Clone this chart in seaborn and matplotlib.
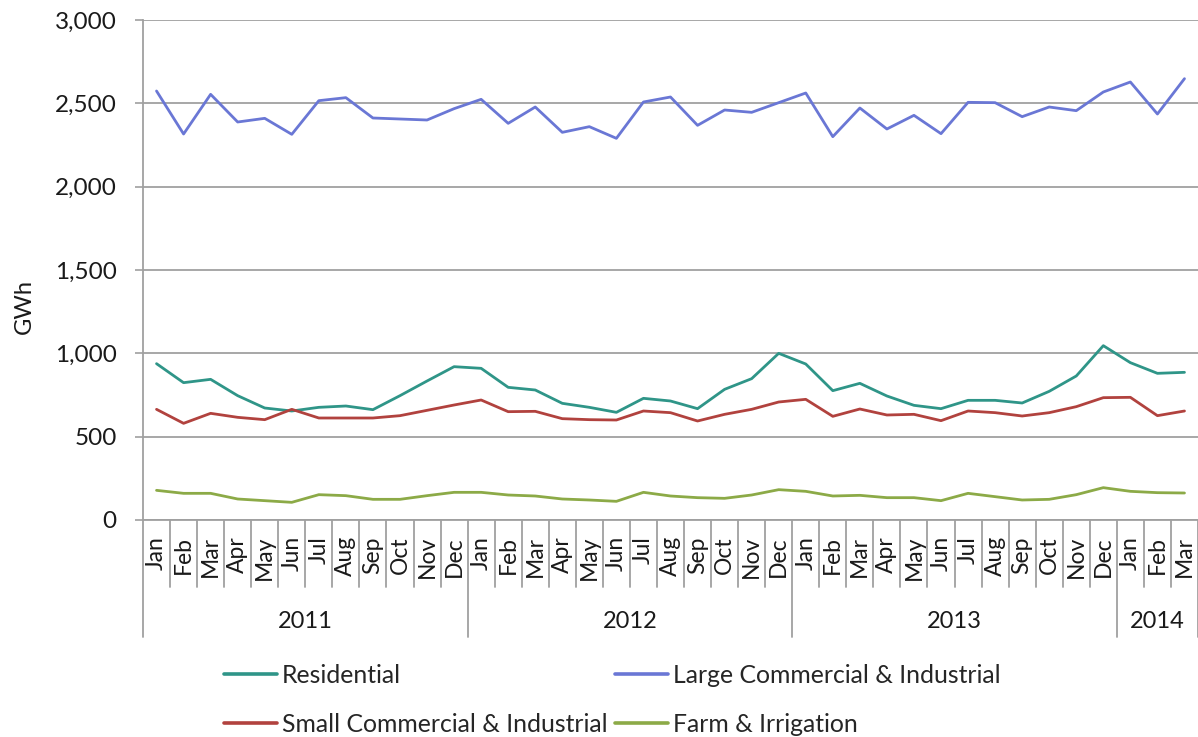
import matplotlib
matplotlib.use("Agg")
import matplotlib.pyplot as plt
import matplotlib.transforms as mtransforms
from matplotlib.lines import Line2D
import seaborn as sns
import pandas as pd
import numpy as np

months = ["Jan", "Feb", "Mar", "Apr", "May", "Jun", "Jul", "Aug", "Sep", "Oct", "Nov", "Dec"] * 3 + ["Jan", "Feb", "Mar"]
years = ["2011", "2012", "2013", "2014"]
year_counts = [12, 12, 12, 3]

residential = [938, 824, 844, 746, 672, 654, 676, 684, 662, 746, 834, 920,
               910, 796, 780, 700, 676, 646, 730, 714, 668, 784, 848, 1000,
               936, 776, 820, 744, 688, 668, 718, 718, 702, 772, 864, 1046,
               944, 880, 886]
large_ci = [2574, 2316, 2554, 2388, 2410, 2314, 2516, 2534, 2412, 2406, 2400, 2468,
            2524, 2380, 2478, 2326, 2360, 2290, 2508, 2538, 2368, 2460, 2446, 2504,
            2562, 2300, 2472, 2346, 2428, 2318, 2506, 2504, 2420, 2478, 2456, 2568,
            2628, 2436, 2648]
small_ci = [664, 580, 640, 616, 602, 664, 612, 612, 612, 626, 658, 690,
            720, 650, 652, 608, 602, 600, 654, 644, 594, 634, 664, 708,
            724, 622, 666, 630, 634, 596, 654, 644, 624, 644, 680, 734,
            736, 626, 654]
farm = [178, 160, 160, 126, 116, 106, 152, 146, 124, 124, 146, 166,
        166, 150, 144, 126, 120, 112, 166, 144, 134, 130, 150, 182,
        172, 144, 148, 134, 134, 116, 160, 140, 120, 124, 152, 194,
        172, 164, 162]

series_names = ["Residential", "Large Commercial & Industrial",
                "Small Commercial & Industrial", "Farm & Irrigation"]
colors = ["#2F9588", "#6A77D5", "#B1423E", "#8CAA47"]

idx = np.arange(len(months))
df = pd.concat([
    pd.DataFrame({"idx": idx, "GWh": vals, "series": name})
    for name, vals in zip(series_names, [residential, large_ci, small_ci, farm])
])

sns.set_theme(style="white")
plt.rcParams["font.family"] = ["Lato", "DejaVu Sans"]

fig = plt.figure(figsize=(11.98, 7.37), dpi=100)
W, H = 1198, 737
ax = fig.add_axes([143 / W, 1 - 520 / H, (1198 - 143) / W, 500 / H])

sns.lineplot(data=df, x="idx", y="GWh", hue="series", hue_order=series_names,
             palette=colors, linewidth=2.0, ax=ax, legend=False, sort=False)

ax.set_xlim(-0.5, len(months) - 0.5)
ax.set_ylim(0, 3000)
yt = np.arange(0, 3001, 500)
ax.set_yticks(yt)
ax.set_yticklabels([f"{v:,}" for v in yt], fontsize=17.5, color="#1a1a1a")
ax.yaxis.grid(True, color="#A0A0A0", linewidth=1.3)
ax.set_axisbelow(True)
ax.tick_params(axis="y", which="major", left=True, length=6, width=1.2,
               color="#A0A0A0", pad=13)
ax.set_xticks([])
ax.set_xlabel("")
ax.set_ylabel("")
fig.text(24 / W, 1 - 306 / H, "GWh", rotation=90, ha="center", va="center",
         fontsize=17, color="#1a1a1a")

for s in ["top", "right"]:
    ax.spines[s].set_visible(False)
ax.spines["left"].set_color("#A0A0A0")
ax.spines["left"].set_linewidth(1.3)
ax.spines["bottom"].set_color("#A0A0A0")
ax.spines["bottom"].set_linewidth(1.3)

trans = mtransforms.blended_transform_factory(ax.transData, ax.transAxes)

# month labels
for i, m in enumerate(months):
    ax.text(i, -0.032, m, transform=trans, rotation=90, ha="center", va="top",
            fontsize=16.5, color="#1a1a1a")

# month separators
year_bounds = np.cumsum([0] + year_counts)
for b in range(len(months) + 1):
    x = b - 0.5
    y_end = -0.234 if b in year_bounds else -0.134
    ax.add_line(Line2D([x, x], [0, y_end], transform=trans, color="#A0A0A0",
                       linewidth=1.3, clip_on=False))

# year labels
for k, y in enumerate(years):
    center = (year_bounds[k] + year_bounds[k + 1] - 1) / 2
    ax.text(center, -0.204, y, transform=trans, ha="center", va="center",
            fontsize=17, color="#1a1a1a")

handles = [Line2D([], [], color=c, linewidth=2.6) for c in colors]
order = [0, 2, 1, 3]
fig.legend([handles[i] for i in order], [series_names[i] for i in order],
           ncol=2, loc="center", bbox_to_anchor=(612 / W, 1 - 700 / H),
           frameon=False, fontsize=17.8, handlelength=2.15, handletextpad=0.2,
           columnspacing=0.3, labelspacing=1.05)

fig.savefig("out.png", dpi=100)
